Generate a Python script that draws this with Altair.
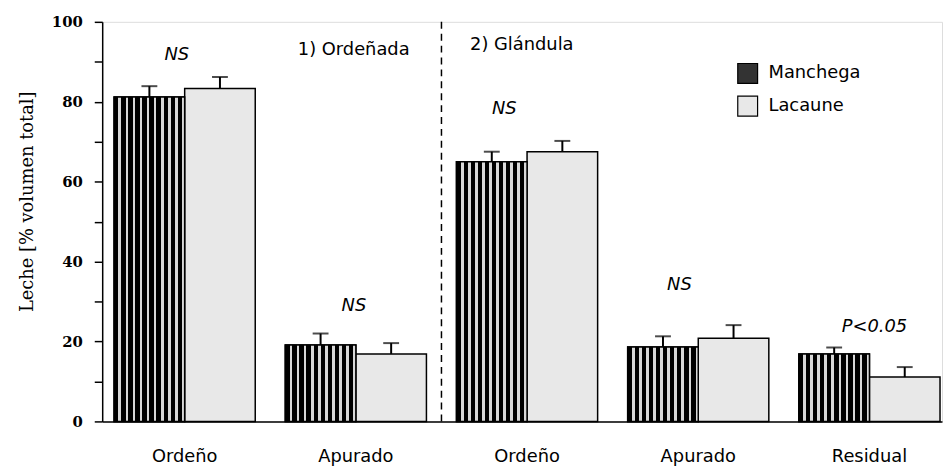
import altair as alt
import pandas as pd

# ---- data ----
groups = ["1 Ordeño", "2 Apurado", "3 Ordeño", "4 Apurado", "5 Residual"]
series = ["Manchega", "Lacaune"]
manchega = [81.2, 19.1, 65.0, 18.6, 16.9]
manchega_err = [2.7, 2.9, 2.5, 2.7, 1.6]
lacaune = [83.3, 16.9, 67.5, 20.8, 11.1]
lacaune_err = [2.9, 2.7, 2.7, 3.3, 2.5]

# annotations: group, text, y value, horizontal shift (px)
ann_groups = ["1 Ordeño", "2 Apurado", "3 Ordeño", "4 Apurado", "5 Residual"]
ann_texts = ["NS", "NS", "NS", "NS", "P<0.05"]
ann_y = [91.8, 28.8, 78.2, 34.2, 23.6]
ann_dx = [-8, -2, -23, -19, 5]

section_texts = ["1) Ordeñada", "2) Glándula"]
section_y = [93.0, 94.2]

rows = []
for i, g in enumerate(groups):
    rows.append({"group": g, "series": "Manchega", "value": manchega[i],
                 "top": manchega[i] + manchega_err[i]})
    rows.append({"group": g, "series": "Lacaune", "value": lacaune[i],
                 "top": lacaune[i] + lacaune_err[i]})
df = pd.DataFrame(rows)

FONT = "DejaVu Sans"
SERIF = "DejaVu Serif"
P_IN = 0.1756

xscale = alt.Scale(domain=groups, paddingInner=P_IN, paddingOuter=0.0406, align=0.857)
xoff = alt.XOffset("series:N", scale=alt.Scale(domain=series, paddingInner=0, paddingOuter=0))
yscale = alt.Scale(domain=[0, 100], nice=False)

x_enc = alt.X(
    "group:N", scale=xscale, title=None,
    axis=alt.Axis(labelExpr="substring(datum.value, 2)", labelAngle=0,
                  ticks=False, labelFont=FONT, labelFontSize=18,
                  labelColor="black", labelPadding=26, domainColor="black",
                  domainWidth=1.5),
)
y_enc = alt.Y(
    "value:Q", scale=yscale,
    title="Leche [% volumen total]",
    axis=alt.Axis(values=list(range(0, 101, 10)),
                  labelExpr="datum.value % 20 == 0 ? datum.label : ''",
                  grid=False, tickSize=8, tickColor="black", tickWidth=1.5,
                  domainColor="black", domainWidth=1.5,
                  labelFont=SERIF, labelFontSize=15,
                  labelFontWeight="bold", labelColor="black", labelPadding=12,
                  titleFont=SERIF, titleFontSize=18,
                  titleFontWeight="normal", titleColor="black",
                  titleAngle=270, titleX=-75, titleY=181,
                  titleBaseline="middle", titleAlign="center"),
)

base = alt.Chart(df)

bars = base.mark_bar(stroke="black", strokeWidth=1.5).encode(
    x=x_enc, xOffset=xoff, y=y_enc,
    color=alt.Color("series:N",
                    scale=alt.Scale(domain=series, range=["#333333", "#e8e8e8"]),
                    legend=alt.Legend(orient="none", legendX=640, legendY=41,
                                      title=None, symbolType="square",
                                      symbolSize=400, symbolStrokeColor="black",
                                      symbolStrokeWidth=1.2,
                                      labelFont=FONT, labelFontSize=18,
                                      labelColor="black", labelOffset=10,
                                      rowPadding=7)),
)

stops = []
N = 10
for i in range(N):
    a = i / N
    b = (i + 0.62) / N
    c = (i + 1) / N
    stops += [{"offset": a, "color": "black"}, {"offset": b, "color": "black"},
              {"offset": b, "color": "#d8d8d8"}, {"offset": c, "color": "#d8d8d8"}]
stripe = {"gradient": "linear", "x1": 0, "x2": 1, "y1": 0, "y2": 0, "stops": stops}

stripes = base.transform_filter(alt.datum.series == "Manchega").mark_bar(
    fill=stripe, stroke="black", strokeWidth=1.5).encode(
    x=alt.X("group:N", scale=xscale), xOffset=xoff,
    y=alt.Y("value:Q", scale=yscale),
)

err = base.mark_rule(color="black", strokeWidth=2).encode(
    x=alt.X("group:N", scale=xscale), xOffset=xoff,
    y=alt.Y("value:Q", scale=yscale), y2="top:Q",
)
caps = base.mark_tick(color="black", size=16, thickness=2).encode(
    x=alt.X("group:N", scale=xscale), xOffset=xoff,
    y=alt.Y("top:Q", scale=yscale),
)

# dashed divider in the middle of the gap between the 2nd and 3rd group
gap_expr = f"scale('x', '{groups[2]}') - 0.5 * bandwidth('x') * {P_IN} / {1 - P_IN}"
divider = alt.Chart(pd.DataFrame({"d": [0]})).mark_rule(
    color="black", strokeWidth=1.5, strokeDash=[7, 5]).encode(
    x=alt.value(alt.expr(gap_expr)),
    y=alt.datum(0, scale=yscale), y2=alt.datum(100),
)

sec1 = alt.Chart(pd.DataFrame({"group": [groups[1]], "t": [section_texts[0]], "y": [section_y[0]]})).mark_text(
    font=FONT, fontSize=18, align="right", baseline="middle", dx=-17, color="black").encode(
    x=alt.X("group:N", scale=xscale, bandPosition=1),
    y=alt.Y("y:Q", scale=yscale), text="t:N",
)
sec2 = alt.Chart(pd.DataFrame({"group": [groups[1]], "t": [section_texts[1]], "y": [section_y[1]]})).mark_text(
    font=FONT, fontSize=18, align="left", baseline="middle", dx=44, color="black").encode(
    x=alt.X("group:N", scale=xscale, bandPosition=1),
    y=alt.Y("y:Q", scale=yscale), text="t:N",
)

ann_layers = []
for g, t, yv, dx in zip(ann_groups, ann_texts, ann_y, ann_dx):
    d = pd.DataFrame({"group": [g], "t": [t], "y": [yv]})
    ann_layers.append(
        alt.Chart(d).mark_text(font=FONT, fontSize=18, fontStyle="italic",
                               align="center", baseline="middle", dx=dx,
                               color="black").encode(
            x=alt.X("group:N", scale=xscale, bandPosition=0.5),
            y=alt.Y("y:Q", scale=yscale), text="t:N",
        )
    )

chart = alt.layer(bars, stripes, err, caps, divider, sec1, sec2, *ann_layers).properties(
    width=847, height=403,
    autosize=alt.AutoSizeParams(type="none"),
    padding={"left": 95, "top": 12, "right": 1, "bottom": 43},
).configure_view(stroke=None).configure(background="white")

chart.save("out.html", embed_options={"renderer": "svg", "actions": False})
